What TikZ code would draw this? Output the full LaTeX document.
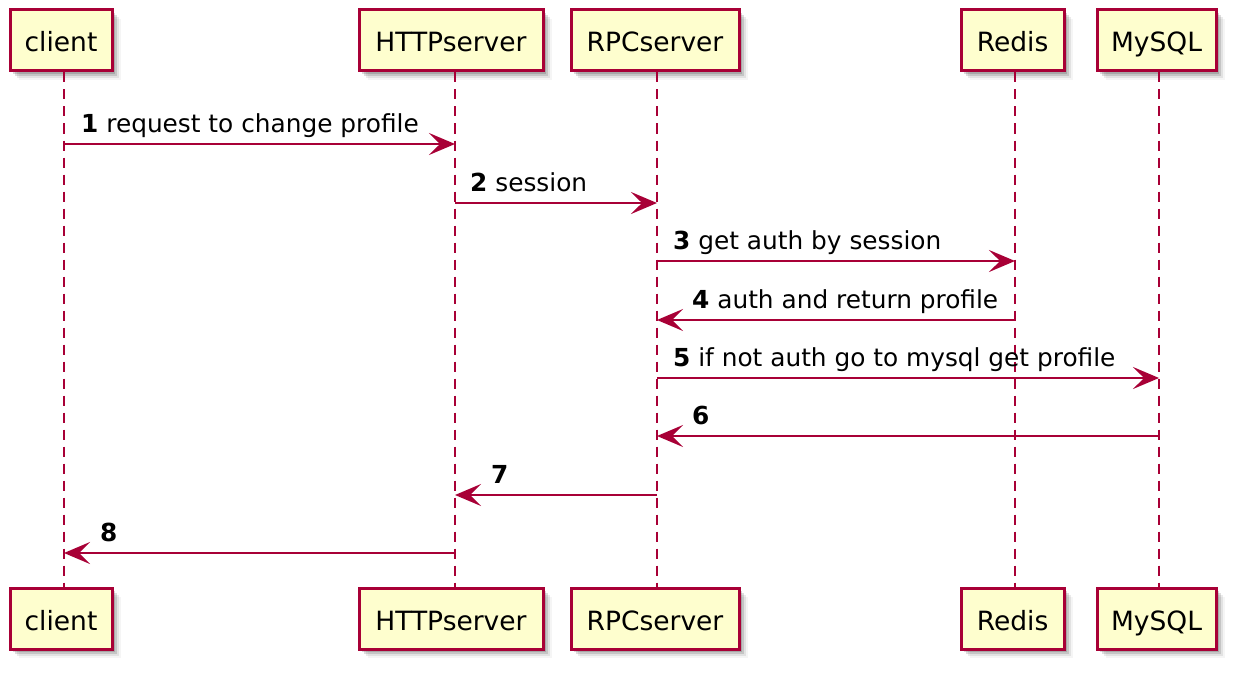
\documentclass[tikz,border=0pt]{standalone}
\usepackage{fontspec}
\setmainfont{DejaVu Sans}
\usetikzlibrary{arrows.meta,shadows}
\definecolor{umlred}{HTML}{A80036}
\definecolor{umlfill}{HTML}{FEFECE}
\tikzset{
  actorbox/.style={draw=umlred, line width=3pt, fill=umlfill, inner sep=0pt,
    minimum height=61pt, text height=26pt, text depth=3pt,
    font=\fontsize{26.5}{30}\selectfont,
    drop shadow={shadow xshift=3pt, shadow yshift=-3pt, fill=black, opacity=0.15},
    drop shadow={shadow xshift=5pt, shadow yshift=-5pt, fill=black, opacity=0.13},
    drop shadow={shadow xshift=7pt, shadow yshift=-7pt, fill=black, opacity=0.08},
    drop shadow={shadow xshift=9pt, shadow yshift=-9pt, fill=black, opacity=0.04}},
  lifeline/.style={draw=umlred, line width=2pt, dash pattern=on 10pt off 7pt},
  msg/.style={draw=umlred, line width=2pt, -{Stealth[length=26pt, width=22pt, inset=11pt]}},
  msglabel/.style={anchor=base west, inner sep=0pt, font=\fontsize{24.8}{28}\selectfont}
}
\begin{document}
\begin{tikzpicture}[x=1pt,y=-1pt]
\useasboundingbox (0,0) rectangle (1241,674);
% top participants
\node[actorbox, minimum width=102pt] (cT) at (61,40.5) {client};
\node[actorbox, minimum width=184pt] (hT) at (451,40.5) {HTTPserver};
\node[actorbox, minimum width=168pt] (rT) at (655,40.5) {RPCserver};
\node[actorbox, minimum width=103pt] (dT) at (1012.5,40.5) {Redis};
\node[actorbox, minimum width=119pt] (mT) at (1156.5,40.5) {MySQL};
% bottom participants
\node[actorbox, minimum width=102pt] (cB) at (61,618.5) {client};
\node[actorbox, minimum width=184pt] (hB) at (451,618.5) {HTTPserver};
\node[actorbox, minimum width=168pt] (rB) at (655,618.5) {RPCserver};
\node[actorbox, minimum width=103pt] (dB) at (1012.5,618.5) {Redis};
\node[actorbox, minimum width=119pt] (mB) at (1156.5,618.5) {MySQL};
% lifeline x positions
\coordinate (cx) at (64,0);
\coordinate (hx) at (455,0);
\coordinate (rx) at (657,0);
\coordinate (dx) at (1015,0);
\coordinate (mx) at (1159,0);
\draw[lifeline] (cx |- cT.south) -- (cx |- cB.north);
\draw[lifeline] (hx |- hT.south) -- (hx |- hB.north);
\draw[lifeline] (rx |- rT.south) -- (rx |- rB.north);
\draw[lifeline] (dx |- dT.south) -- (dx |- dB.north);
\draw[lifeline] (mx |- mT.south) -- (mx |- mB.north);
% rows
\coordinate (y1) at (0,144);
\coordinate (y2) at (0,203);
\coordinate (y3) at (0,261);
\coordinate (y4) at (0,320);
\coordinate (y5) at (0,378);
\coordinate (y6) at (0,436);
\coordinate (y7) at (0,495);
\coordinate (y8) at (0,553);
% messages
\draw[msg] (cx |- y1) -- (hx |- y1);
\node[msglabel] (l1) at ([xshift=17pt,yshift=12pt]cx |- y1) {\textbf{1} request to change profile};
\draw[msg] (hx |- y2) -- (rx |- y2);
\node[msglabel] (l2) at ([xshift=15pt,yshift=12pt]hx |- y2) {\textbf{2} session};
\draw[msg] (rx |- y3) -- (dx |- y3);
\node[msglabel] (l3) at ([xshift=16pt,yshift=12pt]rx |- y3) {\textbf{3} get auth by session};
\draw[msg] (dx |- y4) -- (rx |- y4);
\node[msglabel] (l4) at ([xshift=35pt,yshift=12pt]rx |- y4) {\textbf{4} auth and return profile};
\draw[msg] (rx |- y5) -- (mx |- y5);
\node[msglabel] (l5) at ([xshift=16pt,yshift=12pt]rx |- y5) {\textbf{5} if not auth go to mysql get profile};
\draw[msg] (mx |- y6) -- (rx |- y6);
\node[msglabel] (l6) at ([xshift=35pt,yshift=12pt]rx |- y6) {\textbf{6}};
\draw[msg] (rx |- y7) -- (hx |- y7);
\node[msglabel] (l7) at ([xshift=36pt,yshift=12pt]hx |- y7) {\textbf{7}};
\draw[msg] (hx |- y8) -- (cx |- y8);
\node[msglabel] (l8) at ([xshift=36pt,yshift=12pt]cx |- y8) {\textbf{8}};
\end{tikzpicture}
\end{document}
